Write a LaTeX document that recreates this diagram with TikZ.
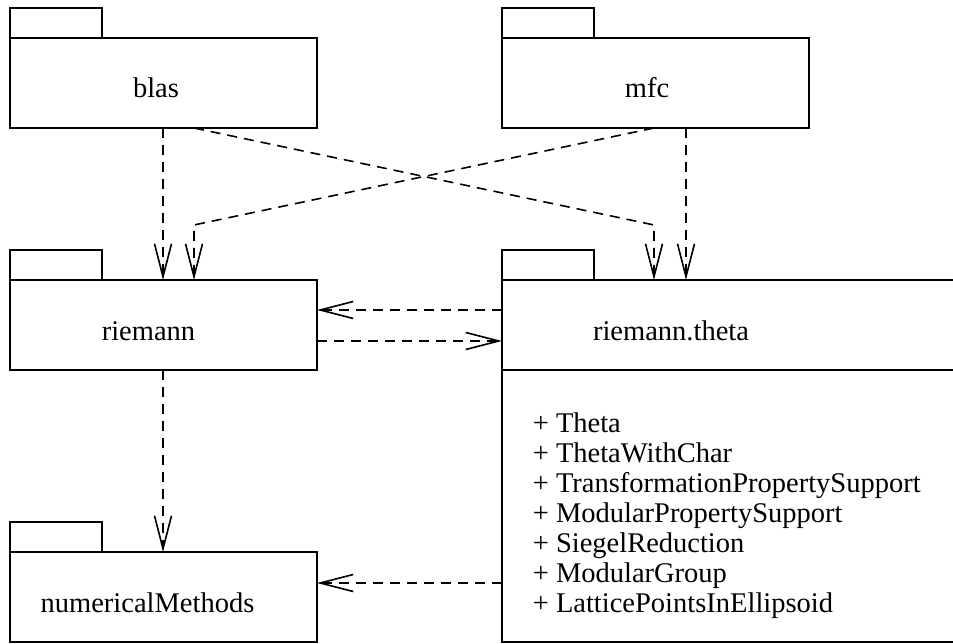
\documentclass[tikz,border=0pt]{standalone}
\usepackage{fontspec}
\setmainfont{Liberation Serif}
\usetikzlibrary{arrows.meta,positioning}
\tikzset{
    every picture/.style={
        line width=1.6pt,x=1pt,y=-1pt,
        >={Straight Barb[length=33pt,width=17pt]},
        font=\fontsize{28.5}{30}\selectfont
    },
    pkg/.style={draw,rectangle,inner sep=0pt,outer sep=0pt,
        minimum width=307pt,minimum height=90pt},
    tab/.style={draw,rectangle,inner sep=0pt,outer sep=0pt,
        minimum width=92pt,minimum height=30pt,anchor=south west},
    pkgname/.style={anchor=base,inner sep=0pt},
    opname/.style={anchor=base west,inner sep=0pt},
    dep/.style={->,dash pattern=on 10pt off 7pt}
}

\begin{document}
\begin{tikzpicture}
    \useasboundingbox (0,0) rectangle (953,644);
    % packages
    \node[pkg]                              (blas)   at (163.5,83)  {};
    \node[pkg]                              (mfc)    at (655.5,83)  {};
    \node[pkg]                              (riemann) at (163.5,325) {};
    \node[pkg,minimum width=458pt]          (theta)  at (731,325)   {};
    \node[pkg,minimum width=458pt,minimum height=272pt] (ops) at (731,506) {};
    \node[pkg]                              (num)    at (163.5,597) {};
    \node[tab] (blastab)    at (blas.north west)    {};
    \node[tab] (mfctab)     at (mfc.north west)     {};
    \node[tab] (riemanntab) at (riemann.north west) {};
    \node[tab] (thetatab)   at (theta.north west)   {};
    \node[tab] (numtab)     at (num.north west)     {};
    % names
    \node[pkgname] (blaslbl)    at (156,98)    {blas};
    \node[pkgname] (mfclbl)     at (647,98)    {mfc};
    \node[pkgname] (riemannlbl) at (148.5,340) {riemann};
    \node[pkgname] (thetalbl)   at (671,340)   {riemann.theta};
    \node[pkgname] (numlbl)     at (147.5,612) {numericalMethods};
    \foreach \op [count=\i from 0] in {Theta,ThetaWithChar,TransformationPropertySupport,
        ModularPropertySupport,SiegelReduction,ModularGroup,LatticePointsInEllipsoid}
        \node[opname] (op\i) at (532,432+30*\i) {+ \op};
    % dependencies
    \draw[dep] ([xshift=153]blas.south west) -- ([xshift=153]riemann.north west);
    \draw[dep] ([xshift=184]blas.south west) -- ([xshift=152,yshift=55]theta.north west)
               -- ([xshift=152]theta.north west);
    \draw[dep] ([xshift=152]mfc.south west) -- ([xshift=184,yshift=55]riemann.north west)
               -- ([xshift=184]riemann.north west);
    \draw[dep] ([xshift=184]mfc.south west) -- ([xshift=184]theta.north west);
    \draw[dep] ([yshift=15]theta.west) -- ([yshift=15]riemann.east);
    \draw[dep] ([yshift=-16]riemann.east) -- ([yshift=-16]theta.west);
    \draw[dep] ([xshift=153]riemann.south west) -- ([xshift=153]num.north west);
    \coordinate (numin) at ([yshift=14]num.east);
    \draw[dep] (ops.west |- numin) -- (numin);
\end{tikzpicture}
\end{document}
